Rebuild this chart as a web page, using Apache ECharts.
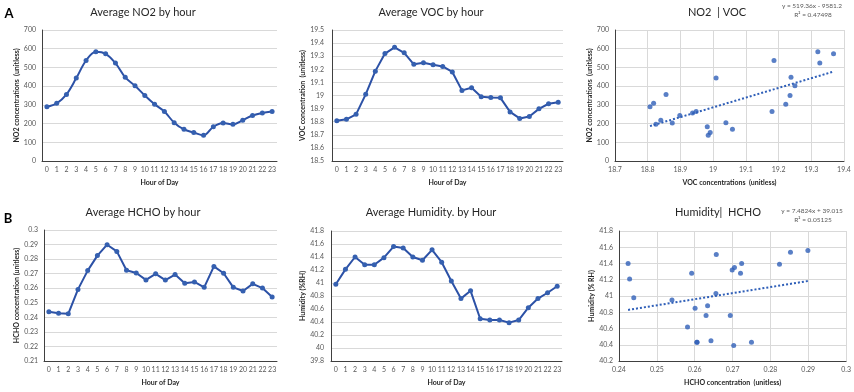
<!DOCTYPE html>
<html><head><meta charset="utf-8">
<script src="https://cdn.jsdelivr.net/npm/echarts@6/dist/echarts.min.js"></script>
<style>html,body{margin:0;padding:0;background:#fff}#c{width:854px;height:392px}</style>
</head><body><div id="c"></div>
<script>
const hours = ['0','1','2','3','4','5','6','7','8','9','10','11','12','13','14','15','16','17','18','19','20','21','22','23'];
const no2 = [290,308,356,443,537,584,573,523,447,402,350,303,264,205,169,152,137,183,203,196,218,243,257,264];
const voc = [18.807,18.818,18.856,19.009,19.186,19.320,19.368,19.326,19.238,19.250,19.235,19.222,19.180,19.039,19.059,18.991,18.985,18.982,18.875,18.825,18.840,18.898,18.937,18.948];
const hcho = [0.2439,0.2428,0.2424,0.2592,0.2721,0.2824,0.2899,0.2853,0.2724,0.2705,0.2657,0.2699,0.2656,0.2694,0.2634,0.2643,0.2606,0.2750,0.2703,0.2606,0.2581,0.2630,0.2601,0.2540];
const humidity = [40.98,41.21,41.40,41.28,41.28,41.39,41.56,41.54,41.40,41.35,41.51,41.32,41.03,40.76,40.88,40.45,40.43,40.43,40.39,40.43,40.62,40.76,40.85,40.95];
const trendNo2Voc = [519.36, -9581.2];
const r2No2Voc = '0.47498';
const trendHumHcho = [7.4824, 39.015];
const r2HumHcho = '0.05125';

const FONT = 'Lato';
const BLUE = '#2c51a6';
const DOT = '#2f5fb8';
const lblStyle = {fontSize: 7, color: '#595959', fontFamily: FONT};
const nameStyle = {fontSize: 7, color: '#262626', fontFamily: FONT, fontWeight: 'bold'};
const gridLine = {show: true, lineStyle: {color: '#d9d9d9', width: 1}};
const axLine = {show: true, lineStyle: {color: '#404040', width: 1}};

function catX(gi, name) {
  return {type: 'category', gridIndex: gi, data: hours, boundaryGap: true,
    axisLine: axLine, axisTick: {show: false}, splitLine: {show: false},
    axisLabel: Object.assign({interval: 0, margin: 5}, lblStyle),
    name: name, nameLocation: 'middle', nameGap: 18, nameTextStyle: nameStyle};
}
function valX(gi, min, max, interval, name) {
  return {type: 'value', gridIndex: gi, min, max, interval,
    axisLine: axLine, axisTick: {show: false}, splitLine: gridLine,
    axisLabel: Object.assign({margin: 5}, lblStyle),
    name: name, nameLocation: 'middle', nameGap: 18, nameTextStyle: nameStyle};
}
function valY(gi, min, max, interval, name, margin, gap) {
  return {type: 'value', gridIndex: gi, min, max, interval,
    axisLine: axLine, axisTick: {show: false}, splitLine: gridLine,
    axisLabel: Object.assign({margin: margin}, lblStyle),
    name: name, nameLocation: 'middle', nameRotate: 90, nameGap: gap, nameTextStyle: nameStyle};
}
function lineS(gi, data, smooth) {
  return {type: 'line', xAxisIndex: gi, yAxisIndex: gi, data, smooth: smooth,
    symbol: 'circle', symbolSize: 5, itemStyle: {color: '#3560b0'},
    lineStyle: {color: BLUE, width: 2}};
}
function scatterS(gi, xs, ys) {
  return {type: 'scatter', xAxisIndex: gi, yAxisIndex: gi,
    data: xs.map((v, i) => [v, ys[i]]), symbolSize: 5, itemStyle: {color: DOT}};
}
function trendS(gi, xs, coef) {
  const lo = Math.min(...xs), hi = Math.max(...xs);
  return {type: 'line', xAxisIndex: gi, yAxisIndex: gi, symbol: 'none', silent: true,
    data: [[lo, coef[0] * lo + coef[1]], [hi, coef[0] * hi + coef[1]]],
    lineStyle: {color: '#2f5fb8', width: 2, type: [2, 2]}};
}
function txt(x, y, text, size, weight, color) {
  return {type: 'text', x, y, style: {text, align: 'center', verticalAlign: 'middle',
    fontSize: size, fontFamily: FONT, fontWeight: weight || 'normal', fill: color || '#262626'}};
}
const fmtEq = (c) => 'y = ' + c[0] + 'x ' + (c[1] < 0 ? '- ' : '+ ') + Math.abs(c[1]);

const option = {
  animation: false,
  grid: [
    {left: 42, top: 30, width: 235, height: 131},
    {left: 332, top: 30, width: 231, height: 131},
    {left: 615, top: 30, width: 229, height: 131},
    {left: 44, top: 230, width: 233, height: 131},
    {left: 331, top: 231, width: 231, height: 130},
    {left: 619, top: 231, width: 228, height: 130}
  ],
  xAxis: [
    catX(0, 'Hour of Day'),
    catX(1, 'Hour of Day'),
    valX(2, 18.7, 19.4, 0.1, 'VOC concentrations  (unitless)'),
    catX(3, 'Hour of Day'),
    catX(4, 'Hour of Day'),
    valX(5, 0.24, 0.3, 0.01, 'HCHO concentration  (unitless)')
  ],
  yAxis: [
    valY(0, 0, 700, 100, 'NO2 concentrations  (unitless)', 6, 20),
    valY(1, 18.5, 19.5, 0.1, 'VOC concentration  (unitless)', 8, 24),
    valY(2, 0, 700, 100, 'NO2 concentrations  (unitless)', 6, 20),
    valY(3, 0.21, 0.3, 0.01, 'HCHO concentration (unitless)', 6, 24),
    valY(4, 39.8, 41.8, 0.2, 'Humidity (%RH)', 7, 24),
    valY(5, 40.2, 41.8, 0.2, 'Humidity (% RH)', 6, 24)
  ],
  series: [
    lineS(0, no2, 0.35),
    lineS(1, voc, false),
    scatterS(2, voc, no2),
    trendS(2, voc, trendNo2Voc),
    lineS(3, hcho, false),
    lineS(4, humidity, false),
    scatterS(5, hcho, humidity),
    trendS(5, hcho, trendHumHcho)
  ],
  graphic: [
    txt(9, 14, 'A', 13, 'bold', '#000'),
    txt(8, 219, 'B', 13, 'bold', '#000'),
    txt(143, 12, 'Average NO2 by hour', 11),
    txt(431, 12, 'Average VOC by hour', 11),
    txt(717, 12, 'NO2  | VOC', 11),
    txt(143, 212, 'Average HCHO by hour', 11),
    txt(431, 212, 'Average Humidity. by Hour', 11),
    txt(718, 212, 'Humidity|  HCHO', 11),
    txt(812, 6, fmtEq(trendNo2Voc), 6.5, 'normal', '#595959'),
    txt(813, 15, 'R² = ' + r2No2Voc, 6.5, 'normal', '#595959'),
    txt(812, 211, fmtEq(trendHumHcho), 6.5, 'normal', '#595959'),
    txt(813, 220, 'R² = ' + r2HumHcho, 6.5, 'normal', '#595959')
  ]
};
echarts.init(document.getElementById('c'), null, {renderer: 'canvas'}).setOption(option);
</script></body></html>
